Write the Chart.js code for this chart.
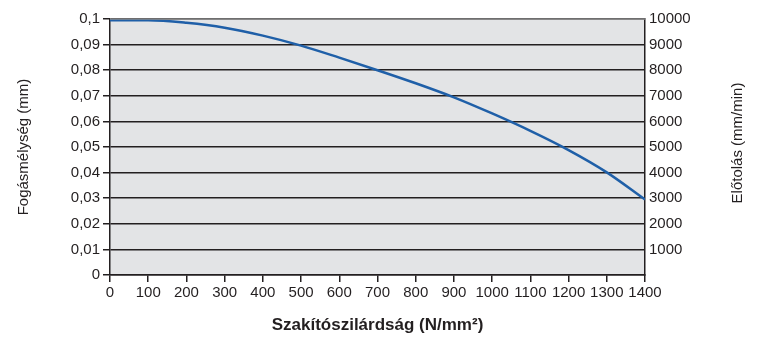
<!DOCTYPE html>
<html>
<head>
<meta charset="utf-8">
<script src="https://cdn.jsdelivr.net/npm/chart.js@4/dist/chart.umd.min.js"></script>
<style>
  html, body { margin: 0; padding: 0; background: #fff; }
  #wrap { width: 758px; height: 338px; }
</style>
</head>
<body>
<div id="wrap"><canvas id="c" width="758" height="338"></canvas></div>
<script>
// Tensile strength (N/mm²) on the x axis
const strength = [0, 100, 200, 300, 400, 500, 600, 700, 800, 900, 1000, 1100, 1200, 1300, 1400];
// Depth of cut (mm) for each strength value
const depth = [0.0995, 0.0995, 0.0985, 0.0966, 0.0935, 0.0896, 0.0849, 0.0800, 0.0749, 0.0694, 0.0631, 0.0563, 0.0488, 0.0401, 0.0295];

// Axis ranges and steps
const xRange = [0, 1400, 100];
const depthRange = [0, 0.1, 0.01];
const feedRange = [0, 10000, 1000];

const FONT = "'Liberation Sans', Arial, Helvetica, sans-serif";
const INK = '#231f20';
const FEED_TITLE = 'Előtolás (mm/min)';

// Grey plot background, thin top frame line and the right axis title read bottom-to-top
const plotDecor = {
  id: 'plotDecor',
  beforeDraw(chart) {
    const { ctx, chartArea: a } = chart;
    ctx.save();
    ctx.fillStyle = '#e3e4e6';
    ctx.fillRect(a.left, a.top, a.right - a.left, a.bottom - a.top);
    ctx.restore();
  },
  afterDatasetsDraw(chart) {
    const { ctx, chartArea: a } = chart;
    ctx.save();
    ctx.strokeStyle = '#8a8a8a';
    ctx.lineWidth = 1.5;
    ctx.beginPath();
    ctx.moveTo(a.left, a.top);
    ctx.lineTo(a.right, a.top);
    ctx.stroke();
    ctx.restore();
  },
  afterDraw(chart) {
    const { ctx, chartArea: a } = chart;
    const s = chart.scales.y2;
    ctx.save();
    ctx.translate(s.right - 20, (a.top + a.bottom) / 2 - 4);
    ctx.rotate(-Math.PI / 2);
    ctx.fillStyle = INK;
    ctx.font = '15px ' + FONT;
    ctx.textAlign = 'center';
    ctx.textBaseline = 'middle';
    ctx.fillText(FEED_TITLE, 0, 0);
    ctx.restore();
  }
};

new Chart(document.getElementById('c'), {
  type: 'line',
  data: {
    datasets: [{
      data: strength.map((s, i) => ({ x: s, y: depth[i] })),
      yAxisID: 'y',
      borderColor: '#1f5fa8',
      borderWidth: 2.5,
      pointRadius: 0,
      cubicInterpolationMode: 'monotone',
      fill: false
    }]
  },
  options: {
    responsive: false,
    animation: false,
    layout: { padding: { top: 19, left: 0, right: 0, bottom: 0 } },
    plugins: { legend: { display: false }, tooltip: { enabled: false } },
    scales: {
      x: {
        type: 'linear',
        min: xRange[0], max: xRange[1],
        afterFit(s) { s.height = 63; },
        ticks: {
          stepSize: xRange[2], color: INK, font: { family: FONT, size: 15 }, padding: 2,
          maxRotation: 0, autoSkip: false, callback: v => String(v)
        },
        grid: { drawOnChartArea: false, drawTicks: true, tickLength: 7, color: INK, lineWidth: 1.5 },
        border: { display: true, color: INK, width: 1.5 },
        title: { display: true, text: 'Szakítószilárdság (N/mm²)', color: INK, font: { family: FONT, size: 17, weight: 'bold' }, padding: { top: 0, bottom: 2 } }
      },
      y: {
        position: 'left',
        min: depthRange[0], max: depthRange[1],
        afterFit(s) { s.width = 110; },
        ticks: {
          stepSize: depthRange[2], color: INK, font: { family: FONT, size: 15 }, padding: 3,
          callback: v => (Math.round(v * 100) / 100).toString().replace('.', ',')
        },
        grid: { color: INK, lineWidth: 1.5, tickLength: 7 },
        border: { display: true, color: INK, width: 1.5 },
        title: { display: true, text: 'Fogásmélység (mm)', color: INK, font: { family: FONT, size: 15 }, padding: { top: 15, bottom: 0 } }
      },
      y2: {
        position: 'right',
        min: feedRange[0], max: feedRange[1],
        afterFit(s) { s.width = 113; },
        ticks: {
          stepSize: feedRange[2], color: INK, font: { family: FONT, size: 15 }, padding: 4,
          callback: v => v === 0 ? '' : String(v)
        },
        grid: { display: false, drawTicks: false },
        border: { display: true, color: INK, width: 1.5 },
        title: { display: false }
      }
    }
  },
  plugins: [plotDecor]
});
</script>
</body>
</html>
